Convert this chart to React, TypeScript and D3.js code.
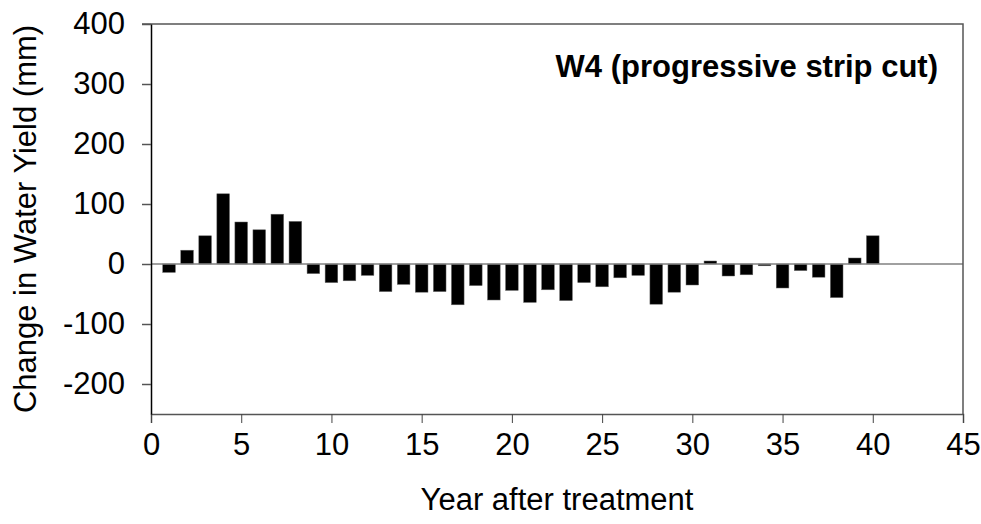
import React, { useEffect, useRef } from "react";
import * as d3 from "d3";

// years after treatment and change in water yield (mm)
const years: number[] = Array.from({ length: 40 }, (_, i) => i + 1);
const yieldChange: number[] = [
	-14, 23, 47, 117, 70, 57, 83, 71, -16, -31,
	-28, -19, -46, -34, -47, -46, -68, -36, -60, -44,
	-64, -43, -61, -31, -38, -23, -19, -67, -47, -35,
	5, -20, -18, -3, -40, -11, -22, -56, 10, 47,
];
const xTicks = [0, 5, 10, 15, 20, 25, 30, 35, 40, 45];
const yTicks = [-200, -100, 0, 100, 200, 300, 400];

export default function App() {
	const svgRef = useRef<SVGSVGElement | null>(null);

	useEffect(() => {
		if (!svgRef.current) return;
		const width = 981;
		const height = 524;
		const margin = { top: 24, right: 18, bottom: 110, left: 151 };
		const font = "Liberation Sans, Arial, sans-serif";
		const fs = 31;

		const x = d3.scaleLinear().domain([0, 45]).range([margin.left, width - margin.right]);
		const y = d3.scaleLinear().domain([-250, 400]).range([height - margin.bottom, margin.top]);

		const svg = d3.select(svgRef.current);
		svg.selectAll("*").remove();

		const barW = (x(1) - x(0)) * 0.7;
		const data = years.map((yr, i) => ({ yr, v: yieldChange[i] }));

		// bars
		svg.append("g")
			.selectAll("rect")
			.data(data)
			.enter()
			.append("rect")
			.attr("x", (d) => x(d.yr) - barW / 2)
			.attr("y", (d) => y(Math.max(0, d.v)))
			.attr("width", barW)
			.attr("height", (d) => Math.abs(y(d.v) - y(0)))
			.attr("fill", "#000")
			.attr("stroke", "#666")
			.attr("stroke-width", 0.5);

		// zero line
		svg.append("line")
			.attr("x1", x(0))
			.attr("x2", x(45))
			.attr("y1", y(0))
			.attr("y2", y(0))
			.attr("stroke", "#808080")
			.attr("stroke-width", 1.5);

		// frame top + right
		svg.append("path")
			.attr("d", `M${x(0) - 9},${y(400)}H${x(45)}V${y(-250)}`)
			.attr("fill", "none")
			.attr("stroke", "#555")
			.attr("stroke-width", 1.5);

		// x axis
		const xAxis = svg.append("g")
			.attr("transform", `translate(0,${y(-250)})`)
			.call(d3.axisBottom(x).tickValues(xTicks).tickSize(9).tickPadding(10).tickFormat(d3.format("d")));
		xAxis.select(".domain").attr("stroke", "#555").attr("stroke-width", 1.5);
		xAxis.selectAll(".tick line").attr("stroke", "#444").attr("stroke-width", 1);
		xAxis.selectAll("text").attr("font-family", font).attr("font-size", fs).attr("fill", "#000");

		// y axis
		const yAxis = svg.append("g")
			.attr("transform", `translate(${x(0)},0)`)
			.call(d3.axisLeft(y).tickValues(yTicks).tickSize(9).tickPadding(17).tickSizeOuter(0).tickFormat(d3.format("d")));
		yAxis.select(".domain").attr("stroke", "#000").attr("stroke-width", 1.5);
		yAxis.selectAll(".tick line").attr("stroke", "#555").attr("stroke-width", 1.5);
		yAxis.selectAll("text").attr("font-family", font).attr("font-size", fs).attr("fill", "#000");
		yAxis.selectAll(".tick text").text((d: any) => (d < 0 ? "-" + Math.abs(d) : String(d)));

		// axis titles
		svg.append("text")
			.attr("x", (x(0) + x(45)) / 2)
			.attr("y", 510)
			.attr("text-anchor", "middle")
			.attr("font-family", font)
			.attr("font-size", fs)
			.text("Year after treatment");

		svg.append("text")
			.attr("transform", `translate(36,${(y(400) + y(-250)) / 2}) rotate(-90)`)
			.attr("text-anchor", "middle")
			.attr("font-family", font)
			.attr("font-size", fs)
			.text("Change in Water Yield (mm)");

		// panel label
		svg.append("text")
			.attr("x", 938)
			.attr("y", 77)
			.attr("text-anchor", "end")
			.attr("font-family", font)
			.attr("font-weight", "bold")
			.attr("font-size", 31)
			.text("W4 (progressive strip cut)");
	}, []);

	return (
		<svg
			ref={svgRef}
			width={981}
			height={524}
			style={{ position: "absolute", left: 0, top: 0, background: "#fff" }}
		/>
	);
}
